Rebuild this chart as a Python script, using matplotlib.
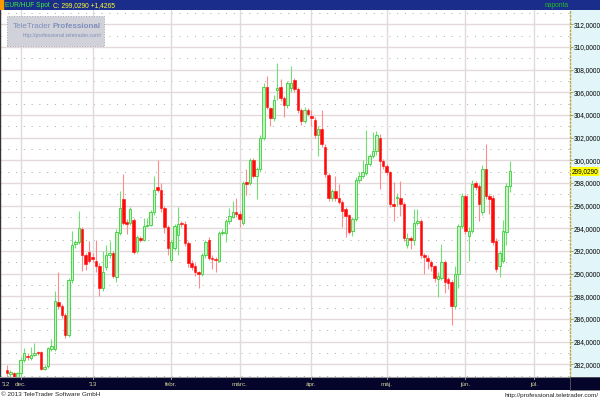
import numpy as np
import pandas as pd
import matplotlib
matplotlib.use('Agg')
import matplotlib.pyplot as plt
from matplotlib.patches import Rectangle

plt.rcParams['font.family'] = ['Liberation Sans', 'DejaVu Sans']

# EUR/HUF Spot daily candles, 2012-11-27 .. 2013-06-20 (weekdays)
opens = [281.5, 281.1, 281.2, 280.9, 281.2, 282.4, 282.75, 282.55, 282.85, 283.0,
         283.07, 281.6, 281.8, 283.3, 283.3, 287.5, 287.1, 286.3, 284.6, 289.4,
         292.6, 292.8, 293.9, 291.65, 291.9, 291.5, 291.15, 290.7, 288.7, 290.6,
         291.6, 291.8, 289.7, 293.6, 296.6, 294.57, 294.5, 294.7, 291.95, 293.1,
         293.0, 294.2, 294.3, 295.4, 297.6, 297.34, 295.8, 294.1, 291.2, 292.3,
         293.4, 294.45, 294.4, 292.7, 290.9, 290.7, 290.1, 290.0, 291.6, 293.0,
         291.4, 291.3, 291.15, 293.6, 293.6, 294.6, 295.0, 295.4, 295.3, 294.5,
         298.05, 298.0, 300.0, 298.6, 299.2, 302.0, 306.5, 304.6, 303.7, 306.25,
         306.5, 305.46, 304.9, 306.4, 307.1, 306.3, 304.4, 303.5, 304.4, 303.9,
         303.6, 302.25, 302.75, 301.2, 298.74, 296.65, 297.3, 296.7, 296.3, 295.7,
         295.15, 293.8, 294.85, 298.3, 298.6, 298.9, 299.7, 300.4, 300.8, 302.0,
         299.9, 299.5, 298.95, 296.1, 296.7, 296.7, 296.1, 292.5, 293.1, 293.0,
         294.5, 294.65, 291.6, 291.4, 291.0, 290.65, 289.55, 289.6, 291.0, 289.5,
         289.25, 287.15, 290.0, 294.2, 296.85, 293.3, 293.8, 298.0, 297.7, 295.4,
         299.2, 296.85, 296.7, 292.9, 290.7, 291.15, 293.7, 297.7]
highs = [281.9, 281.5, 281.3, 281.3, 282.6, 283.4, 283.0, 283.55, 283.85, 283.2,
         283.2, 281.9, 283.5, 284.2, 288.5, 290.1, 287.3, 286.5, 289.6, 293.8,
         293.0, 295.5, 294.1, 291.8, 292.9, 291.8, 293.0, 290.9, 292.0, 292.5,
         292.9, 292.0, 293.9, 297.3, 298.8, 294.8, 295.9, 294.9, 293.4, 293.3,
         294.9, 294.95, 295.6, 298.6, 300.06, 298.0, 296.0, 294.3, 293.0, 294.4,
         295.9, 294.6, 294.6, 292.9, 291.2, 290.9, 290.2, 291.8, 293.0, 293.2,
         291.6, 291.5, 293.8, 293.9, 294.8, 295.8, 296.4, 296.7, 295.5, 298.2,
         299.2, 300.2, 300.2, 299.4, 302.2, 306.8, 307.4, 304.7, 305.75, 308.6,
         307.2, 305.7, 307.0, 308.3, 307.3, 306.5, 304.6, 304.7, 304.6, 304.4,
         303.8, 303.0, 304.4, 301.4, 298.9, 297.5, 298.6, 297.9, 296.5, 295.9,
         295.3, 295.0, 298.5, 299.0, 300.0, 302.7, 300.6, 302.5, 302.6, 302.3,
         300.1, 299.7, 299.1, 298.1, 297.1, 298.2, 296.3, 293.6, 293.3, 295.7,
         295.7, 294.8, 291.8, 291.6, 291.2, 290.8, 290.1, 292.6, 291.2, 289.7,
         289.4, 290.7, 294.4, 297.1, 297.0, 294.1, 298.3, 298.2, 297.9, 299.6,
         301.45, 297.0, 296.9, 293.1, 292.0, 294.7, 298.0, 299.9]
lows = [280.9, 280.9, 280.7, 280.8, 281.0, 282.2, 282.4, 282.4, 282.7, 282.8,
        281.5, 281.5, 281.7, 283.2, 283.2, 286.9, 286.1, 284.3, 284.4, 289.2,
        292.3, 292.6, 290.2, 290.3, 290.9, 291.0, 290.1, 288.0, 288.5, 290.3,
        291.4, 289.6, 289.3, 293.4, 294.3, 293.5, 294.3, 291.7, 291.8, 292.8,
        292.9, 294.1, 294.2, 295.2, 297.2, 295.4, 293.6, 291.6, 291.0, 292.1,
        291.6, 294.1, 292.4, 290.6, 290.3, 289.8, 288.7, 289.8, 291.4, 291.2,
        290.4, 290.1, 291.0, 293.4, 292.8, 294.4, 294.9, 295.0, 294.1, 294.3,
        296.9, 297.8, 298.4, 296.55, 299.0, 301.8, 304.5, 303.0, 303.5, 305.3,
        305.2, 303.85, 304.6, 306.0, 306.0, 304.2, 303.1, 303.3, 303.9, 303.0,
        302.0, 300.35, 301.2, 298.5, 296.4, 296.4, 296.4, 296.1, 294.1, 293.2,
        293.5, 293.35, 294.6, 298.0, 298.4, 298.7, 299.5, 300.2, 300.5, 297.5,
        299.2, 298.7, 295.9, 294.65, 296.0, 295.1, 292.9, 292.3, 292.2, 292.5,
        294.3, 291.4, 290.0, 290.4, 290.2, 289.3, 287.95, 289.4, 288.3, 288.6,
        285.5, 286.9, 288.7, 294.0, 293.5, 291.15, 293.6, 297.4, 294.65, 295.2,
        296.6, 295.25, 292.5, 290.1, 289.7, 290.9, 292.5, 297.2]
closes = [281.2, 281.3, 280.9, 281.2, 282.4, 283.0, 282.6, 282.85, 283.0, 282.95,
          281.6, 281.72, 283.4, 283.6, 287.6, 287.1, 286.3, 284.6, 289.4, 292.5,
          292.8, 294.0, 291.65, 290.86, 291.15, 291.25, 290.66, 288.7, 290.1, 291.6,
          291.8, 289.8, 293.7, 295.8, 294.45, 294.42, 295.7, 291.9, 293.2, 292.95,
          294.2, 294.3, 295.4, 297.4, 297.4, 295.77, 294.1, 292.3, 292.8, 294.2,
          294.4, 294.35, 292.7, 290.9, 290.6, 290.1, 290.0, 291.6, 292.8, 291.4,
          291.25, 291.2, 293.6, 293.7, 294.66, 295.1, 295.4, 295.25, 294.8, 298.0,
          297.95, 300.0, 298.6, 299.2, 301.96, 306.5, 304.7, 303.7, 305.3, 306.4,
          305.5, 304.9, 306.8, 306.8, 306.3, 304.4, 303.5, 304.4, 304.1, 303.7,
          302.25, 302.8, 301.4, 298.75, 296.7, 297.3, 296.7, 296.3, 295.5, 295.1,
          293.7, 294.85, 298.3, 298.65, 299.0, 299.7, 300.4, 300.8, 302.2, 299.9,
          299.5, 298.95, 296.1, 296.0, 296.8, 296.1, 293.1, 293.1, 293.0, 294.5,
          294.6, 291.6, 291.45, 291.15, 290.65, 289.6, 289.8, 291.0, 289.25, 289.2,
          287.15, 290.0, 294.2, 296.85, 293.8, 293.8, 297.9, 297.6, 296.1, 299.2,
          296.85, 296.55, 292.75, 290.4, 291.8, 293.8, 297.7, 299.03]

last_close = 299.029
change = 1.4265
month_labels = ['dec.', "'13", 'febr.', 'márc.', 'ápr.', 'máj.', 'jún.', 'júl.']

# trading-day axis (weekdays only)
all_days = pd.bdate_range('2012-11-26', '2013-07-31')
dates = pd.bdate_range('2012-11-27', periods=len(closes))
x = np.array([all_days.get_loc(d) for d in dates])
month_pos = [i for i in range(1, len(all_days)) if all_days[i].month != all_days[i - 1].month]

o = np.array(opens); h = np.array(highs); l = np.array(lows); c = np.array(closes)
up = c >= o


def r(x0, y0, x1, y1):
    return [x0 / 600, 1 - y1 / 400, (x1 - x0) / 600, (y1 - y0) / 400]


fig = plt.figure(figsize=(6, 4), dpi=100)
fig.patch.set_facecolor('white')

# right price panel
pan = fig.add_axes(r(570, 10, 600, 377))
pan.set_facecolor('#e2f6fa')
pan.set_xticks([]); pan.set_yticks([])
for s in pan.spines.values():
    s.set_visible(False)

ax = fig.add_axes(r(0, 10, 570, 377))
xlim = (-1.05, 165.6)
ylim = (280.87, 313.27)
ax.set_xlim(*xlim)
ax.set_ylim(*ylim)

# grid
for v in range(282, 314, 2):
    ax.axhline(v, color='#e2dada', lw=1.0, zorder=0)
for v in range(281, 314, 2):
    ax.axhline(v, color='#a8a8a8', lw=0.7, ls=(0, (1, 7)), zorder=0)
for p in month_pos:
    ax.axvline(p, color='#e2dada', lw=1.0, zorder=0)

# candles
ax.vlines(x[up], l[up], h[up], color='#72e072', lw=0.8, zorder=2)
ax.vlines(x[~up], l[~up], h[~up], color='#ff8c8c', lw=0.8, zorder=2)
body = np.maximum(np.abs(c - o), 0.09)
bot = np.minimum(o, c)
ax.bar(x[up], body[up], bottom=bot[up], width=0.72, color='#c6f3c2',
       edgecolor='#3ccc3c', linewidth=0.6, zorder=3)
ax.bar(x[~up], body[~up], bottom=bot[~up], width=0.72, color='#ff0a0a',
       edgecolor='#ff0a0a', linewidth=0.4, zorder=3)

ax.set_xticks([])
ax.yaxis.tick_right()
ax.set_yticks(range(282, 313, 2))
ax.set_yticklabels([f'{v},0000' for v in range(282, 313, 2)])
ax.tick_params(axis='y', length=2, width=0.6, color='#a89a30', labelsize=4.7,
               pad=1, labelcolor='black')
for s in ['top', 'bottom']:
    ax.spines[s].set_visible(False)
ax.spines['left'].set_color('#333333')
ax.spines['left'].set_linewidth(1.0)
ax.spines['right'].set_color('#b8a840')
ax.spines['right'].set_linestyle(':')
ax.spines['right'].set_linewidth(1.0)

ax.text(1.003, last_close, f'{last_close:.4f}'.replace('.', ','),
        transform=ax.get_yaxis_transform(), fontsize=4.7, va='center', ha='left',
        bbox=dict(fc='#ffff00', ec='none', pad=0.6), clip_on=False, zorder=10)

# header bar
hd = fig.add_axes(r(0, 0, 600, 10))
hd.set_facecolor('#1b2d8a')
hd.set_xlim(0, 600); hd.set_ylim(10, 0)
hd.set_xticks([]); hd.set_yticks([])
for s in hd.spines.values():
    s.set_visible(False)
hd.add_patch(Rectangle((0, 0), 2.5, 10, color='#ff9a00'))
renderer = fig.canvas.get_renderer()
t1 = hd.text(5, 5.3, 'EUR/HUF Spot', color='#3cf03c', fontsize=4.8, va='center')
x1 = hd.transData.inverted().transform(t1.get_window_extent(renderer))[1, 0]
hd.text(x1 + 3, 5.3, f'C: {last_close:.4f} +{change:.4f}'.replace('.', ','),
        color='#ffff30', fontsize=4.8, va='center')
hd.text(569, 5.3, 'naponta', color='#22c022', fontsize=4.8, va='center', ha='right')

# bottom date bar
bb = fig.add_axes(r(0, 377, 570, 390))
bb.set_facecolor('#05052c')
bb.set_xlim(*xlim); bb.set_ylim(0, 1)
bb.set_xticks([]); bb.set_yticks([])
for s in bb.spines.values():
    s.set_visible(False)
bb.spines['top'].set_visible(True)
bb.spines['top'].set_color('#9a9a9a')
bb.text(xlim[0] + 0.4, 0.45, "'12", color='#cfcf9a', fontsize=4.6, va='center', ha='left')
for p, lab in zip(month_pos, month_labels):
    bb.plot([p, p], [0.88, 1.0], color='#bbbbbb', lw=0.6)
    bb.text(p, 0.45, lab, color='#cfcf9a', fontsize=4.6, va='center', ha='center')
cr = fig.add_axes(r(570, 377, 600, 390))
cr.set_facecolor('#05052c')
cr.set_xticks([]); cr.set_yticks([])
for s in cr.spines.values():
    s.set_color('#6a6a6a'); s.set_linewidth(0.5)

# logo box
fig.add_artist(Rectangle((7 / 600, 1 - 46 / 400), 97 / 600, 30 / 400,
                         transform=fig.transFigure, fc='#d0d1d9', ec='#a5a5b5',
                         ls=':', lw=0.7, zorder=5))
lt = fig.text(13 / 600, 1 - 26 / 400, 'TeleTrader', color='#7f90bd', fontsize=5.8,
              va='center', zorder=6)
lx = fig.transFigure.inverted().transform(lt.get_window_extent(renderer))[1, 0]
fig.text(lx + 1.5 / 600, 1 - 26 / 400, 'Professional', color='#7f90bd', fontsize=5.8,
         fontweight='bold', va='center', zorder=6)
fig.text(23 / 600, 1 - 35.5 / 400, 'http://professional.teletrader.com/', color='#8090b8',
         fontsize=3.8, va='center', zorder=6)

# footer
fig.text(1 / 600, 1 - 395 / 400, '© 2013 TeleTrader Software GmbH', fontsize=4.6,
         va='center', color='#222222')
fig.text(599 / 600, 1 - 395 / 400, 'http://professional.teletrader.com/', fontsize=4.6,
         va='center', ha='right', color='#222222')

fig.savefig('out.png', dpi=100)
